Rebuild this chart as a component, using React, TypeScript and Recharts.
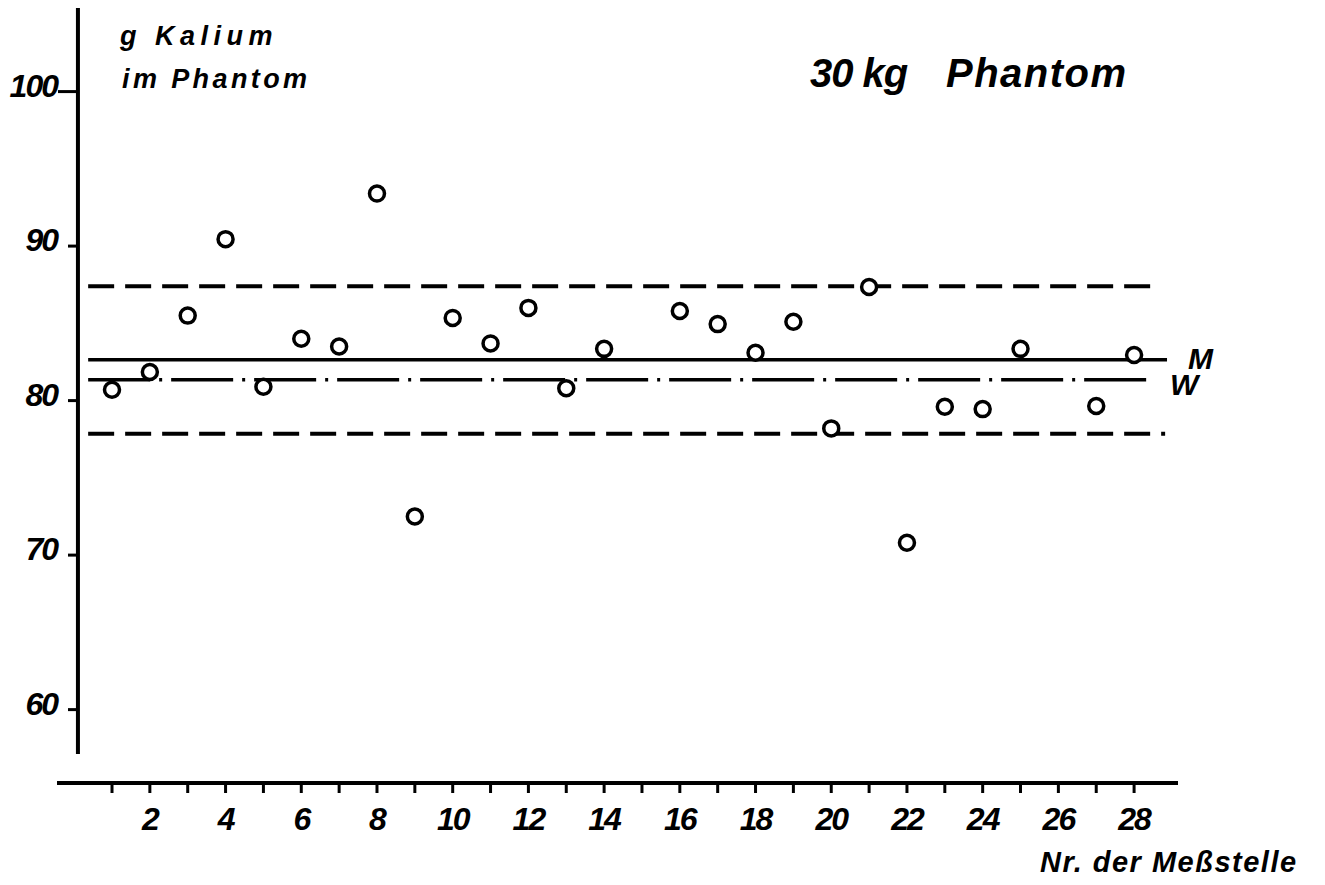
import { ScatterChart, Scatter, XAxis, YAxis, ReferenceLine } from 'recharts';

const stations = [1, 2, 3, 4, 5, 6, 7, 8, 9, 10, 11, 12, 13, 14, 16, 17, 18, 19, 20, 21, 22, 23, 24, 25, 27, 28];
const kalium = [
  80.7, 81.85, 85.5, 90.45, 80.9, 84.0, 83.5, 93.4, 72.5, 85.35, 83.7, 86.0, 80.8, 83.35,
  85.8, 84.95, 83.1, 85.1, 78.2, 87.35, 70.8, 79.6, 79.45, 83.35, 79.65, 82.95,
];
const xTicks = [1, 2, 3, 4, 5, 6, 7, 8, 9, 10, 11, 12, 13, 14, 15, 16, 17, 18, 19, 20, 21, 22, 23, 24, 25, 26, 27, 28];
const yTicks = [60, 70, 80, 90, 100];

const meanM = 82.65;
const meanW = 81.35;
const upperLimit = 87.4;
const lowerLimit = 77.85;

const data = stations.map((s, i) => ({ x: s, y: kalium[i] }));

const font = "'Liberation Sans', Arial, sans-serif";
const textStyle = { fontFamily: font, fontStyle: 'italic', fontWeight: 'bold' } as const;

const XTick = (props: any) => {
  const { x, y, payload } = props;
  if (payload.value % 2 !== 0) return <g />;
  return (
    <text x={x} y={y} dy={37} textAnchor="middle" fontSize={32} fill="#000" style={textStyle} letterSpacing={-2}>
      {payload.value}
    </text>
  );
};

const YTick = (props: any) => {
  const { x, y, payload } = props;
  return (
    <g>
      <line x1={x + (payload.value === 100 ? 1 : 11)} x2={x + 21} y1={y} y2={y} stroke="#000" strokeWidth={3} />
      <text x={x} y={y} dy={5} textAnchor="end" fontSize={32} fill="#000" style={textStyle} letterSpacing={-2}>
        {payload.value}
      </text>
    </g>
  );
};

const sideLabel = (text: string, dx: number, dy: number) => (props: any) => {
  const vb = props.viewBox;
  return (
    <text x={vb.x + vb.width + dx} y={vb.y + dy} fontSize={30} fill="#000" style={textStyle}>
      {text}
    </text>
  );
};

const Ring = (props: any) => (
  <circle cx={props.cx} cy={props.cy} r={7.5} fill="#fff" stroke="#000" strokeWidth={3.5} />
);

export default function App() {
  return (
    <div style={{ position: 'relative', width: 1317, height: 877, background: '#fff' }}>
      <ScatterChart width={1317} height={877} margin={{ top: 0, right: 147, bottom: 42, left: 0 }}>
        <XAxis
          type="number"
          dataKey="x"
          domain={[-0.453, 29.16]}
          allowDataOverflow
          ticks={xTicks}
          interval={0}
          height={60}
          tickSize={10}
          tickMargin={0}
          axisLine={{ stroke: '#000', strokeWidth: 4 }}
          tickLine={{ stroke: '#000', strokeWidth: 3 }}
          tick={<XTick />}
        />
        <YAxis
          type="number"
          dataKey="y"
          domain={[55.25, 105.41]}
          allowDataOverflow
          ticks={yTicks}
          width={49}
          tickSize={0}
          tickMargin={0}
          axisLine={false}
          tickLine={false}
          tick={<YTick />}
        />
        <ReferenceLine
          segment={[{ x: 0.1, y: 57.13 }, { x: 0.1, y: 105.41 }]}
          stroke="#000"
          strokeWidth={4}
          ifOverflow="visible"
        />
        <ReferenceLine
          segment={[{ x: 0.37, y: upperLimit }, { x: 28.63, y: upperLimit }]}
          stroke="#000"
          strokeWidth={4}
          strokeDasharray="26 11"
          ifOverflow="visible"
        />
        <ReferenceLine
          segment={[{ x: 0.37, y: lowerLimit }, { x: 28.82, y: lowerLimit }]}
          stroke="#000"
          strokeWidth={4}
          strokeDasharray="26 11"
          ifOverflow="visible"
        />
        <ReferenceLine
          segment={[{ x: 0.37, y: meanM }, { x: 28.87, y: meanM }]}
          stroke="#000"
          strokeWidth={3.5}
          ifOverflow="visible"
          label={sideLabel('M', 21, 9)}
        />
        <ReferenceLine
          segment={[{ x: 0.37, y: meanW }, { x: 28.37, y: meanW }]}
          stroke="#000"
          strokeWidth={3.5}
          strokeDasharray="62 9 3 9"
          ifOverflow="visible"
          label={sideLabel('W', 22, 15)}
        />
        <Scatter data={data} shape={<Ring />} isAnimationActive={false} />
      </ScatterChart>
      <svg width={1317} height={877} style={{ position: 'absolute', left: 0, top: 0, pointerEvents: 'none' }}>
        <g fill="#000" style={textStyle}>
          <text x={112} y={37} fontSize={27} letterSpacing={5.5}>g Kalium</text>
          <text x={114} y={80} fontSize={27} letterSpacing={3.4}>im Phantom</text>
          <text x={802} y={79} fontSize={40} letterSpacing={-1}>30 kg</text>
          <text x={938} y={79} fontSize={40} letterSpacing={1.5}>Phantom</text>
          <text x={1032} y={864} fontSize={29} letterSpacing={1.5}>Nr. der Meßstelle</text>
        </g>
      </svg>
    </div>
  );
}
